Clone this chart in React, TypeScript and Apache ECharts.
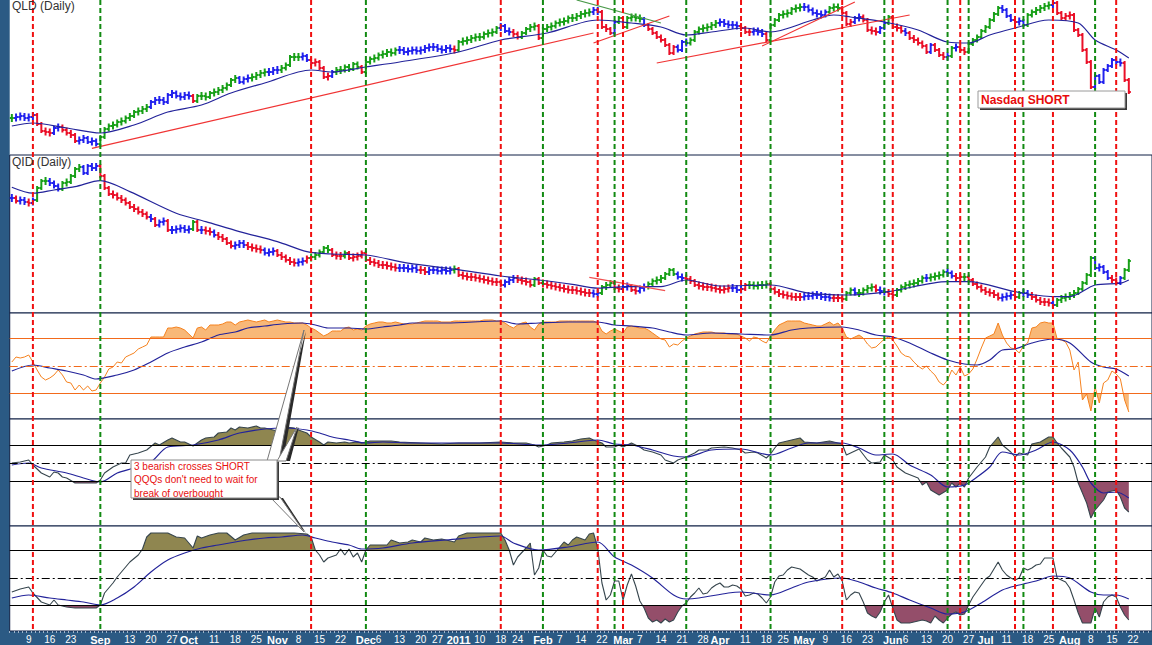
import React, { useEffect, useRef } from "react";
import * as echarts from "echarts";

// ---------- calendar ----------
const FIRST_DAY = "2010-08-03";
const CATEGORY_COUNT = 271;
const HOLIDAYS = ["2010-09-06", "2010-11-25", "2010-12-24", "2011-01-17", "2011-02-21", "2011-04-22", "2011-05-30", "2011-07-04"];

const AXIS_LABELS: [string, string][] = [
  ["2010-08-09", "9"], ["2010-08-16", "16"], ["2010-08-23", "23"], ["2010-09-01", "Sep"], ["2010-09-13", "13"],
  ["2010-09-20", "20"], ["2010-09-27", "27"], ["2010-10-01", "Oct"], ["2010-10-11", "11"], ["2010-10-18", "18"],
  ["2010-10-25", "25"], ["2010-11-01", "Nov"], ["2010-11-08", "8"], ["2010-11-15", "15"], ["2010-11-22", "22"],
  ["2010-12-01", "Dec"], ["2010-12-06", "6"], ["2010-12-13", "13"], ["2010-12-20", "20"], ["2010-12-27", "27"],
  ["2011-01-03", "2011"], ["2011-01-10", "10"], ["2011-01-18", "18"], ["2011-01-24", "24"], ["2011-02-01", "Feb"],
  ["2011-02-07", "7"], ["2011-02-14", "14"], ["2011-02-22", "22"], ["2011-03-01", "Mar"], ["2011-03-07", "7"],
  ["2011-03-14", "14"], ["2011-03-21", "21"], ["2011-03-28", "28"], ["2011-04-01", "Apr"], ["2011-04-11", "11"],
  ["2011-04-18", "18"], ["2011-04-25", "25"], ["2011-05-02", "May"], ["2011-05-09", "9"], ["2011-05-16", "16"],
  ["2011-05-23", "23"], ["2011-06-01", "Jun"], ["2011-06-06", "6"], ["2011-06-13", "13"], ["2011-06-20", "20"],
  ["2011-06-27", "27"], ["2011-07-01", "Jul"], ["2011-07-11", "11"], ["2011-07-18", "18"], ["2011-07-25", "25"],
  ["2011-08-01", "Aug"], ["2011-08-08", "8"], ["2011-08-15", "15"], ["2011-08-22", "22"],
];

const BUY_SIGNALS = ["2010-09-01", "2010-12-01", "2011-02-01", "2011-02-25", "2011-03-22", "2011-04-19", "2011-05-27", "2011-06-20", "2011-06-27", "2011-07-15", "2011-08-09"];
const SELL_SIGNALS = ["2010-08-10", "2010-11-11", "2011-01-18", "2011-02-18", "2011-03-01", "2011-04-08", "2011-05-13", "2011-06-01", "2011-06-23", "2011-07-13", "2011-07-26", "2011-08-16"];

// ---------- QLD (daily closes, from 2010-08-03) ----------
const QLD_CLOSE = [
  70.5, 70.75, 71, 70.5, 70.75, 71.25, 69, 67.25, 67, 66.75,
  68, 68.25, 67.5, 66.75, 66.25, 64.75, 65, 65.5, 64.5, 64.75,
  64, 65.75, 67.75, 68.5, 68.75, 69.5, 69.75, 70.5, 71, 72,
  72.25, 72.75, 73.25, 74.5, 75, 75, 74.5, 76.25, 76.75, 76,
  75.75, 76.25, 76, 74.75, 76, 76, 75.75, 76.75, 77, 77.5,
  78, 78.75, 80, 80.5, 79.5, 80.25, 80.5, 80.75, 81.25, 81.75,
  82, 82, 82.5, 82.5, 83, 83.75, 85.75, 85.75, 85.75, 86,
  85, 84.25, 84.5, 83, 80.75, 81, 82, 82.5, 82.5, 83.25,
  82.75, 84, 83.25, 82, 84.5, 85.25, 85.5, 86.25, 86.5, 87,
  86.75, 87.5, 87.5, 87, 87.25, 87.5, 87.25, 87.5, 88, 88.25,
  88.25, 87.75, 87.5, 88, 87.75, 87.5, 89.5, 89.75, 90, 90.5,
  90.75, 90.75, 91.5, 91.75, 92, 93, 93.5, 92.25, 92, 91.5,
  90.75, 91.75, 92.75, 93.25, 93.5, 90.5, 92.75, 93.25, 93.5, 94.25,
  94.5, 94.75, 95.5, 95.5, 96, 96.5, 96.75, 97, 97.5, 97,
  93.25, 92.75, 91.75, 94.5, 95.5, 93.25, 95.5, 95.75, 95.5, 95.25,
  93.75, 92.75, 91.75, 90.75, 90, 88.75, 86.75, 88.25, 87.5, 89.5,
  89.25, 90, 92, 92.75, 93, 93.25, 93.75, 94.25, 94.5, 94,
  93.75, 93.75, 93.5, 93, 92, 92, 92.25, 92, 91.5, 90,
  93.75, 95, 96.25, 96.5, 96.75, 97.75, 98, 98.25, 98.25, 97.5,
  96.75, 96.5, 96.25, 97, 98, 98.25, 98, 96.75, 94, 94.5,
  95.5, 95.75, 95, 92.5, 92.25, 92, 93, 94.25, 95.75, 93.25,
  93, 92.25, 91.75, 90.5, 90, 89.25, 88.5, 87, 88.75, 87.5,
  86.25, 85.75, 86, 88, 88.25, 87.5, 87, 89, 90, 90.75,
  92.25, 93.25, 95, 96.5, 98, 97.5, 96, 95, 94.5, 94.75,
  93.75, 96.25, 97, 97.5, 98, 98.5, 98.75, 99.25, 96.75, 95.5,
  96, 96.25, 92.5, 91.25, 87.5, 84.5, 78.25, 81, 79.5, 82.5,
  83.5, 85, 84.5, 84.25, 80, 77,
];
// bar colour per day: G = up, B = neutral, R = down
const QLD_COLOR = [
  "GBBBBBRRRR", "BBRRRRBBBB", "BGGGGGGGGG", "GGGBBBBBBB", "BBBRGGGGGG",
  "GGGGBBBGGG", "GBBBGGGGGB", "BRRRRRBGGG", "GGGRGGGGGG", "GGBBBBBBBB",
  "BBBBBRGGGG", "GGGGGGBBBR", "RGGGGRGGGG", "GGGGGGGGBB", "RRRBGRGGGG",
  "BRRRRRRRBB", "BGGGGGGGBB", "BBBRRRBBBR", "GGGGGGGGBB", "BBBBGGGRRR",
  "BBRRRRBBGR", "RRBRRRRRBR", "RRBGBRRGGG", "GGGGGBBBRB", "BGGGGGGBRR",
  "RRRRRRRBBB", "BBBBRR",
].join("");
const QLD_MA: [number, number][] = [
  [0, 68.5], [5, 69.25], [13, 68], [21, 66.75], [29, 68.75], [37, 72], [45, 73.75], [52, 76.75], [60, 79.25],
  [71, 82.5], [76, 82], [84, 83.25], [92, 84.5], [106, 87], [116, 90], [127, 91.75], [139, 95], [147, 94.25],
  [154, 93.25], [160, 91.25], [166, 92], [174, 93], [180, 92], [190, 95], [195, 96.25], [199, 95.75], [207, 94.5],
  [215, 92.5], [222, 89.5], [227, 89.25], [232, 91.25], [238, 93], [246, 95], [253, 94.25], [257, 90], [262, 87.5], [265, 85.5],
];
// [day, value, day, value]
const QLD_RED_TRENDS = [
  [19, 62.9, 138, 91.75],
  [138, 89.25, 156, 96],
  [153, 84.25, 213, 96.25],
  [178, 88.5, 200, 99.5],
];
const QLD_GREEN_TRENDS = [[134, 100, 154, 94.25]];

// ---------- QID ----------
const QID_CLOSE = [
  15.1, 14.95, 15, 14.9, 14.85, 15, 15.6, 15.95, 15.95, 15.85,
  15.7, 15.55, 15.85, 15.9, 16.2, 16.55, 16.65, 16.35, 16.7, 16.6,
  16.7, 16.2, 15.6, 15.3, 15.25, 15.1, 15, 14.85, 14.65, 14.55,
  14.4, 14.3, 14.15, 14.05, 13.75, 13.9, 13.95, 13.5, 13.5, 13.55,
  13.6, 13.5, 13.55, 13.9, 13.5, 13.5, 13.45, 13.4, 13.25, 13.15,
  13.05, 12.85, 12.7, 12.75, 12.85, 12.75, 12.65, 12.6, 12.55, 12.5,
  12.35, 12.4, 12.45, 12.25, 12.15, 12, 11.9, 11.85, 11.9, 11.95,
  12.1, 12.15, 12.25, 12.4, 12.6, 12.5, 12.25, 12.2, 12.2, 12.35,
  12.1, 12.15, 12.2, 12.35, 12, 11.9, 11.85, 11.75, 11.75, 11.7,
  11.65, 11.6, 11.6, 11.6, 11.55, 11.6, 11.5, 11.5, 11.4, 11.5,
  11.5, 11.45, 11.5, 11.45, 11.5, 11.55, 11.25, 11.2, 11.15, 11.15,
  11.1, 11.05, 11, 10.95, 10.9, 10.9, 10.75, 10.9, 11, 11.1,
  11, 10.95, 10.9, 10.75, 11.05, 10.85, 10.8, 10.75, 10.7, 10.65,
  10.6, 10.55, 10.5, 10.5, 10.45, 10.4, 10.35, 10.35, 10.3, 10.35,
  10.65, 10.75, 10.85, 10.6, 10.55, 10.65, 10.7, 10.5, 10.45, 10.6,
  10.65, 10.8, 10.95, 11, 11.1, 11.3, 11.5, 11.3, 11.15, 11.1,
  11.05, 10.95, 10.75, 10.7, 10.65, 10.65, 10.6, 10.55, 10.5, 10.55,
  10.6, 10.6, 10.5, 10.55, 10.75, 10.75, 10.7, 10.75, 10.75, 10.8,
  10.55, 10.4, 10.3, 10.25, 10.2, 10.15, 10.15, 10.15, 10.2, 10.2,
  10.25, 10.25, 10.15, 10.15, 10.1, 10.1, 10.1, 10.05, 10.35, 10.5,
  10.35, 10.35, 10.5, 10.6, 10.65, 10.5, 10.45, 10.4, 10.3, 10.25,
  10.5, 10.65, 10.75, 10.8, 10.85, 10.95, 11.1, 11.1, 11.15, 11.2,
  11.25, 11.4, 11.35, 11.2, 11.1, 11.15, 11.15, 11, 10.8, 10.65,
  10.5, 10.4, 10.35, 10.25, 10.1, 10.15, 10.2, 10.25, 10.15, 10.35,
  10.35, 10.25, 10.15, 10, 9.9, 9.9, 9.85, 9.75, 10, 10.1,
  10.15, 10.25, 10.35, 10.55, 10.85, 11.25, 12.1, 11.6, 11.65, 11.4,
  11.1, 11, 10.85, 11.1, 11.5, 11.95,
];
const QID_COLOR = [
  "BRBBRBGGGB", "BBGGGGGBBB", "BRRRRRRRRR", "RRRBRBBRBB", "BBBGRBRRBR",
  "RRRBBBRRRR", "BBBRRRRRBB", "RGGGGGRRRG", "RRRRRRRRRR", "RRBBBBBRRB",
  "BBBBBGRRRR", "RRRRRRRBBB", "RRRRGRRRRR", "RRRRRRRRBB", "GGGRRBBRRB",
  "BGGGGGGGBB", "RRRRRRRRRR", "RBBBRGGGGG", "RRRRRRRRBB", "BBBBBRRRGG",
  "BGGGGRBBRR", "GGGGGGGBGG", "GGBBRRGRRR", "RRRRRBBBRG", "BBRRRRRBGG",
  "GGGGGGGBBB", "BRRBGG",
].join("");
const QID_MA: [number, number][] = [
  [0, 15.64], [5, 15.34], [10, 15.5], [15, 15.67], [21, 15.97], [28, 15.42], [39, 14.34], [46, 13.92], [54, 13.42],
  [63, 12.92], [70, 12.42], [76, 12.3], [84, 12.25], [94, 11.84], [105, 11.54], [116, 11.2], [125, 11], [133, 10.78],
  [139, 10.59], [146, 10.67], [154, 10.67], [160, 11], [168, 10.7], [180, 10.75], [189, 10.34], [198, 10.25],
  [208, 10.42], [222, 10.92], [227, 10.92], [238, 10.42], [247, 10.17], [251, 10.17], [257, 10.75], [263, 10.84], [265, 11],
];
const QID_RED_TRENDS = [[137, 11.135, 155, 10.465]];

// ---------- oscillator 1 (orange, centred at 0, bands +/-27.5) ----------
const OSC1 = [
  4, 9, 8, 9, 11, 4, -4, -11, -14, -12,
  -9, -4, -9, -16, -17, -24, -19, -24, -20, -25,
  -24, -17, -11, -3, -1, 4, 3, 9, 11, 13,
  17, 19, 21, 29, 29, 29, 29, 38, 38, 39,
  38, 36, 32, 28, 38, 39, 36, 41, 41, 41,
  42, 44, 44, 41, 44, 45, 46, 45, 44, 45,
  46, 44, 45, 46, 45, 44, 44, 43, 43, 43,
  41, 38, 36, 33, 30, 32, 35, 35, 35, 38,
  39, 36, 37, 36, 40, 42, 43, 44, 44, 43,
  43, 44, 43, 42, 42, 42, 43, 44, 45, 45,
  45, 45, 44, 44, 44, 45, 45, 45, 45, 45,
  45, 45, 46, 46, 46, 45, 45, 43, 40, 38,
  41, 43, 44, 39, 36, 42, 44, 44, 44, 44,
  45, 45, 45, 45, 45, 45, 45, 45, 45, 43,
  35, 32, 35, 37, 35, 33, 39, 40, 39, 38,
  38, 36, 33, 30, 27, 26, 19, 22, 21, 25,
  28, 30, 32, 33, 34, 34, 34, 33, 33, 33,
  32, 32, 32, 30, 28, 25, 29, 28, 25, 23,
  30, 36, 41, 43, 45, 45, 45, 45, 43, 42,
  41, 40, 40, 42, 44, 41, 43, 38, 29, 27,
  29, 31, 28, 22, 18, 19, 23, 27, 29, 26,
  20, 13, 10, 9, 4, 0, -3, 0, -5, -9,
  -16, -19, -14, -4, -9, -1, -10, -8, -3, 7,
  18, 28, 30, 32, 43, 31, 23, 18, 17, 13,
  20, 23, 38, 39, 43, 44, 43, 43, 27, 26,
  24, 16, -4, 4, -34, -28, -45, -21, -37, -17,
  -14, -5, -8, -13, -34, -46,
];
const OSC1_MA: [number, number][] = [
  [0, -5], [5, 1], [9, -2], [13, -5], [17, -9], [20, -13], [25, -9], [29, -4], [33, 4], [37, 13], [41, 19], [45, 24],
  [49, 31], [53, 34], [56, 38], [60, 40], [64, 42], [69, 43], [72, 41], [75, 38], [80, 38], [84, 37], [88, 39], [92, 41],
  [95, 43], [103, 43], [116, 45], [120, 42], [125, 43], [132, 44], [139, 44], [143, 41], [147, 40], [152, 38], [156, 34],
  [160, 31], [166, 33], [173, 32], [180, 31], [185, 36], [189, 38], [197, 39], [201, 36], [205, 31], [209, 29], [213, 23],
  [218, 13], [222, 6], [226, 2], [229, 1], [232, 6], [235, 16], [238, 17], [242, 23], [247, 27], [251, 23], [256, 4],
  [259, -1], [262, -3], [265, -10],
];

// ---------- oscillator 2 (bands +/-18) ----------
const OSC2: [number, number][] = [
  [0, 0], [2, 1], [4, 3], [5, -2], [7, -10], [9, -14], [10, -9], [11, -10], [12, -14], [13, -15], [15, -20], [16, -20],
  [18, -20], [20, -20], [21, -17], [22, -10], [24, -4], [26, 0], [27, 0], [28, 8], [30, 10], [32, 13], [34, 20], [35, 18],
  [37, 23], [38, 25], [40, 21], [41, 21], [43, 17], [45, 23], [46, 25], [48, 26], [49, 30], [51, 31], [52, 35], [53, 33],
  [54, 36], [56, 35], [58, 37], [59, 35], [60, 35], [63, 32], [65, 36], [67, 35], [68, 33], [70, 30], [71, 26], [73, 21],
  [74, 18], [75, 21], [77, 20], [79, 21], [80, 20], [82, 21], [83, 20], [85, 22], [87, 22], [90, 22], [92, 21], [97, 20],
  [102, 19], [106, 20], [111, 20], [116, 21], [119, 20], [122, 20], [124, 18], [125, 16], [127, 18], [128, 20], [131, 21],
  [133, 22], [135, 24], [137, 25], [138, 23], [140, 20], [141, 16], [143, 16], [144, 18], [145, 16], [147, 20], [149, 16],
  [150, 13], [152, 11], [154, 8], [155, 3], [157, 0], [158, 3], [160, 6], [162, 10], [163, 13], [165, 13], [166, 15],
  [169, 16], [171, 15], [173, 13], [174, 10], [176, 11], [177, 10], [179, 5], [180, 9], [181, 15], [182, 20], [185, 23],
  [187, 25], [188, 21], [191, 20], [194, 22], [196, 20], [197, 19], [198, 8], [199, 10], [201, 14], [203, 3], [204, 0],
  [206, 1], [207, 8], [209, 3], [210, -4], [212, -10], [215, -15], [216, -22], [217, -19], [218, -27], [220, -32],
  [222, -27], [223, -20], [224, -24], [225, -20], [226, -24], [227, -15], [229, -4], [231, 6], [232, 16], [234, 26],
  [235, 18], [237, 11], [238, 6], [239, 10], [241, 8], [242, 19], [244, 21], [246, 26], [247, 26], [248, 20], [249, 15],
  [251, 6], [252, -4], [253, -20], [255, -40], [256, -55], [257, -47], [259, -37], [260, -29], [262, -27], [263, -34],
  [264, -45], [265, -49],
];
const OSC2_MA: [number, number][] = [
  [0, -2], [4, 0], [7, -5], [13, -10], [17, -15], [21, -19], [25, -10], [29, -5], [33, 1], [37, 16], [43, 18], [49, 23],
  [54, 30], [60, 34], [65, 35], [70, 33], [73, 30], [76, 26], [80, 23], [84, 20], [88, 21], [95, 20], [107, 20], [116, 20],
  [125, 18], [132, 20], [139, 23], [143, 19], [147, 18], [152, 13], [157, 7], [160, 6], [166, 13], [173, 14], [180, 8],
  [185, 15], [189, 20], [197, 20], [201, 15], [205, 8], [209, 9], [213, -2], [218, -12], [222, -24], [226, -22],
  [229, -14], [232, -4], [235, 11], [239, 8], [243, 13], [247, 21], [251, 13], [254, -4], [256, -20], [259, -30],
  [262, -29], [265, -35],
];

// ---------- oscillator 3 (bands +/-27.5) ----------
const OSC3: [number, number][] = [
  [0, -14], [2, -11], [4, -9], [5, -15], [7, -24], [9, -27], [10, -22], [11, -27], [13, -29], [15, -30], [18, -30],
  [20, -30], [21, -27], [22, -15], [24, -5], [25, 1], [26, 6], [27, 11], [28, 16], [30, 23], [31, 29], [32, 41], [33, 45],
  [34, 45], [35, 45], [37, 45], [39, 41], [41, 40], [43, 30], [44, 42], [45, 40], [47, 43], [49, 45], [51, 45], [53, 38],
  [55, 43], [57, 45], [60, 45], [64, 45], [67, 45], [70, 44], [71, 41], [72, 28], [73, 23], [74, 16], [75, 20], [77, 23],
  [78, 29], [79, 23], [80, 29], [81, 21], [82, 25], [83, 16], [84, 28], [85, 33], [87, 33], [89, 33], [90, 38], [92, 35],
  [94, 36], [95, 38], [97, 36], [98, 40], [100, 38], [102, 39], [105, 36], [106, 42], [108, 45], [111, 45], [114, 45],
  [116, 45], [117, 38], [118, 28], [119, 13], [120, 21], [122, 30], [123, 35], [124, 3], [125, 10], [126, 28], [127, 22],
  [128, 21], [129, 26], [131, 36], [132, 33], [133, 38], [134, 41], [136, 38], [137, 44], [138, 45], [139, 30], [140, -5],
  [141, -22], [142, -17], [143, -3], [144, -3], [145, -22], [146, -7], [147, 4], [148, -8], [149, -23], [150, -30],
  [151, -40], [152, -44], [153, -42], [154, -45], [155, -41], [156, -44], [157, -42], [158, -34], [159, -28], [160, -25],
  [161, -19], [162, -15], [163, -10], [164, -16], [165, -15], [166, -10], [167, -7], [168, -5], [169, -9], [170, -9],
  [171, -7], [172, -8], [173, -11], [174, -18], [175, -17], [176, -15], [177, -16], [178, -20], [179, -25], [180, -19],
  [181, -4], [182, 2], [183, 3], [184, 8], [185, 11], [186, 10], [187, 9], [188, 6], [189, 3], [190, 1], [191, -3],
  [192, -1], [193, 1], [194, 8], [195, 1], [196, 4], [197, -3], [198, -22], [199, -17], [200, -14], [201, -15], [202, -24],
  [203, -35], [204, -38], [205, -40], [206, -34], [207, -24], [208, -17], [209, -30], [210, -42], [211, -45], [212, -45],
  [213, -45], [214, -44], [215, -43], [216, -42], [217, -43], [218, -45], [219, -38], [220, -42], [221, -45], [222, -40],
  [223, -36], [224, -34], [225, -37], [226, -36], [227, -27], [228, -19], [229, -13], [230, -7], [231, -1], [232, 2],
  [233, 9], [234, 16], [235, 8], [236, 3], [237, 0], [238, -2], [239, 0], [240, 10], [241, 8], [242, 10], [243, 13],
  [244, 14], [245, 20], [246, 20], [247, 20], [248, 0], [249, -2], [250, -4], [251, -10], [252, -22], [253, -35],
  [254, -45], [255, -45], [256, -45], [257, -30], [258, -39], [259, -24], [260, -19], [261, -17], [262, -19], [263, -29],
  [264, -37], [265, -42],
];
const OSC3_MA: [number, number][] = [
  [0, -20], [4, -17], [9, -20], [13, -22], [17, -24], [21, -27], [25, -20], [29, -9], [33, 6], [37, 18], [41, 25],
  [45, 30], [49, 33], [53, 36], [56, 38], [60, 40], [64, 41], [69, 43], [72, 40], [76, 36], [80, 33], [83, 29], [88, 30],
  [95, 35], [103, 38], [116, 42], [119, 35], [125, 28], [132, 31], [139, 36], [143, 21], [147, 13], [152, 0], [157, -17],
  [160, -21], [163, -20], [170, -15], [173, -14], [180, -17], [185, -10], [189, -4], [197, 0], [201, -4], [205, -10],
  [209, -15], [213, -22], [218, -30], [222, -36], [226, -34], [230, -25], [235, -12], [239, -7], [243, -3], [247, 2],
  [251, 0], [256, -14], [259, -17], [262, -17], [265, -21],
];

// ---------- styling ----------
const FONT = "'Liberation Sans', Arial, sans-serif";
const STRIP = "#2b5a84";
const NAVY = "#0f1f45";
const MA_BLUE = "#23239a";
const BAR_COLORS = ["#18a018", "#2222ee", "#ea1028"];
const SIG_RED = "#f01010";
const SIG_GREEN = "#128a12";
const ORANGE = "#f26a1b";
const ORANGE_LINE = "#f5821f";
const ORANGE_FILL = "#f8b878";
const OLIVE = "#8f8650";
const MAROON = "#944e6a";
const OSC_LINE = "#36454d";
const DASHDOT = [8, 3, 2, 3];

const GL = 9.72;
const GW = 1143.08;
const PANELS = [
  { top: 0, height: 631 }, // overlay (signals + date axis)
  { top: 0, height: 155 }, // QLD
  { top: 155, height: 158 }, // QID
  { top: 313, height: 106 }, // osc 1
  { top: 419, height: 107 }, // osc 2
  { top: 526, height: 105 }, // osc 3
];
const Y_RANGES = [
  [0, 1],
  [61.25, 100],
  [9.35, 17.25],
  [-53, 53],
  [-63, 44],
  [-53, 52],
];

function buildTradingDays(): string[] {
  const out: string[] = [];
  const [y, m, d] = FIRST_DAY.split("-").map(Number);
  const cur = new Date(Date.UTC(y, m - 1, d));
  while (out.length < CATEGORY_COUNT) {
    const wd = cur.getUTCDay();
    const iso = cur.toISOString().slice(0, 10);
    if (wd !== 0 && wd !== 6 && HOLIDAYS.indexOf(iso) < 0) out.push(iso);
    cur.setUTCDate(cur.getUTCDate() + 1);
  }
  return out;
}

const COLOR_INDEX: Record<string, number> = { G: 0, B: 1, R: 2 };

function barData(closes: number[], colors: string) {
  return closes.map((c, k) => [k, k === 0 ? c : closes[k - 1], c, COLOR_INDEX[colors[k]] ?? 1]);
}

function renderBar(params: any, api: any) {
  const k = api.value(0);
  const o = api.value(1);
  const c = api.value(2);
  const stroke = BAR_COLORS[api.value(3)];
  const po = api.coord([k, o]);
  const pc = api.coord([k, c]);
  const band = api.size([1, 0])[0];
  const half = band * 0.48;
  let top = Math.min(po[1], pc[1]) - 2;
  let bot = Math.max(po[1], pc[1]) + 2;
  if (bot - top < 8) {
    const mid = (top + bot) / 2;
    top = mid - 4;
    bot = mid + 4;
  }
  const x = po[0];
  const st = { stroke, lineWidth: 2 };
  return {
    type: "group",
    children: [
      { type: "line", shape: { x1: x, y1: top, x2: x, y2: bot }, style: st },
      { type: "line", shape: { x1: x - half, y1: po[1], x2: x, y2: po[1] }, style: st },
      { type: "line", shape: { x1: x, y1: pc[1], x2: x + half, y2: pc[1] }, style: st },
    ],
  };
}

function levelLines(levels: [number, string, any][]) {
  return {
    silent: true,
    symbol: ["none", "none"],
    label: { show: false },
    animation: false,
    data: levels.map(([v, color, type]) => ({ yAxis: v, lineStyle: { color, type, width: 1 } })),
  };
}

function buildOption() {
  const days = buildTradingDays();
  const labelMap = new Map<string, string>(AXIS_LABELS);

  const series: any[] = [];
  const visualMap: any[] = [];

  const signalData = [
    ...BUY_SIGNALS.map((d) => [days.indexOf(d), 1]),
    ...SELL_SIGNALS.map((d) => [days.indexOf(d), 0]),
  ];
  series.push({
    type: "custom",
    xAxisIndex: 0,
    yAxisIndex: 0,
    z: 10,
    silent: true,
    data: signalData,
    encode: { x: 0, y: 1 },
    renderItem: (params: any, api: any) => {
      const x = api.coord([api.value(0), 0])[0];
      const cs = params.coordSys;
      const buy = api.value(1) === 1;
      return {
        type: "line",
        shape: { x1: x, y1: cs.y, x2: x, y2: cs.y + cs.height },
        style: { stroke: buy ? SIG_GREEN : SIG_RED, lineWidth: 2, lineDash: [5, 3] },
      };
    },
  });

  const line = (gi: number, data: any[], color: string, width: number, extra: any = {}) => ({
    type: "line",
    xAxisIndex: gi,
    yAxisIndex: gi,
    data,
    showSymbol: false,
    symbol: "none",
    silent: true,
    lineStyle: { color, width },
    z: 3,
    ...extra,
  });

  // QLD
  series.push({ type: "custom", xAxisIndex: 1, yAxisIndex: 1, z: 2, silent: true, data: barData(QLD_CLOSE, QLD_COLOR), encode: { x: 0, y: [1, 2] }, renderItem: renderBar });
  series.push(line(1, QLD_MA, MA_BLUE, 1.2, { smooth: 0.3 }));
  QLD_RED_TRENDS.forEach((t) => series.push(line(1, [[t[0], t[1]], [t[2], t[3]]], "#f03434", 1.2)));
  QLD_GREEN_TRENDS.forEach((t) => series.push(line(1, [[t[0], t[1]], [t[2], t[3]]], "#4a9a4a", 1.2)));

  // QID
  series.push({ type: "custom", xAxisIndex: 2, yAxisIndex: 2, z: 2, silent: true, data: barData(QID_CLOSE, QID_COLOR), encode: { x: 0, y: [1, 2] }, renderItem: renderBar });
  series.push(line(2, QID_MA, MA_BLUE, 1.2, { smooth: 0.3 }));
  QID_RED_TRENDS.forEach((t) => series.push(line(2, [[t[0], t[1]], [t[2], t[3]]], "#f05050", 1.2)));

  const fill = (gi: number, data: any[], band: number, upColor: string, downColor: string) => {
    const idx = series.length;
    series.push({
      type: "line",
      xAxisIndex: gi,
      yAxisIndex: gi,
      data,
      showSymbol: false,
      symbol: "none",
      silent: true,
      z: 1,
      lineStyle: { width: 0 },
      areaStyle: { opacity: 1 },
    });
    visualMap.push({
      show: false,
      type: "piecewise",
      seriesIndex: idx,
      dimension: 1,
      pieces: [
        { gt: band, lte: 500, color: upColor },
        { gte: -500, lt: -band, color: downColor },
        { gte: -band, lte: band, color: "rgba(255,255,255,0)" },
      ],
    });
  };

  // oscillator 1
  const osc1Data = OSC1.map((v, k) => [k, v]);
  fill(3, osc1Data, 27.5, ORANGE_FILL, ORANGE_FILL);
  series.push(line(3, osc1Data, ORANGE_LINE, 1, {
    markLine: levelLines([[27.5, ORANGE, "solid"], [0, ORANGE, DASHDOT], [-27.5, ORANGE, "solid"]]),
  }));
  series.push(line(3, OSC1_MA, MA_BLUE, 1.2, { smooth: 0.3 }));

  // oscillator 2
  fill(4, OSC2, 18, OLIVE, MAROON);
  series.push(line(4, OSC2, OSC_LINE, 1.1, {
    markLine: levelLines([[18, "#000", "solid"], [0, "#000", DASHDOT], [-18, "#000", "solid"]]),
  }));
  series.push(line(4, OSC2_MA, MA_BLUE, 1.2, { smooth: 0.3 }));

  // oscillator 3
  fill(5, OSC3, 27.5, OLIVE, MAROON);
  series.push(line(5, OSC3, OSC_LINE, 1.1, {
    markLine: levelLines([[27.5, "#000", "solid"], [0, "#000", DASHDOT], [-27.5, "#000", "solid"]]),
  }));
  series.push(line(5, OSC3_MA, MA_BLUE, 1.2, { smooth: 0.3 }));

  const grid = PANELS.map((p, i) => ({
    left: GL,
    width: GW,
    top: p.top,
    height: p.height,
    show: i > 0,
    backgroundColor: "#ffffff",
    borderColor: NAVY,
    borderWidth: i > 1 ? 1 : 0,
    containLabel: false,
  }));

  const xAxis = PANELS.map((_, i) => ({
    type: "category",
    gridIndex: i,
    data: days,
    boundaryGap: true,
    show: i === 0,
    position: "bottom",
    axisLine: { show: false },
    axisTick: { show: i === 0, interval: 0, length: 2, lineStyle: { color: "#9db2c8", width: 1 } },
    splitLine: { show: false },
    axisLabel: {
      show: i === 0,
      interval: (_idx: number, val: string) => labelMap.has(val),
      formatter: (val: string) => {
        const t = labelMap.get(val) || "";
        return /^\d{1,2}$/.test(t) ? t : `{b|${t}}`;
      },
      color: "#ffffff",
      fontSize: 10,
      fontFamily: FONT,
      margin: 3,
      rich: { b: { fontWeight: "bold", fontSize: 11, color: "#ffffff", fontFamily: FONT } },
    },
  }));

  const yAxis = PANELS.map((_, i) => ({
    type: "value",
    gridIndex: i,
    min: Y_RANGES[i][0],
    max: Y_RANGES[i][1],
    show: false,
    splitLine: { show: false },
  }));

  const boxShadow = "#3a3a3a";
  const graphic: any[] = [
    { type: "text", x: 12, y: 6, z: 100, silent: true, style: { text: "QLD (Daily)", fill: "#333", font: `12px ${FONT}`, verticalAlign: "middle" } },
    { type: "text", x: 12, y: 162, z: 100, silent: true, style: { text: "QID (Daily)", fill: "#333", font: `12px ${FONT}`, verticalAlign: "middle" } },
    // Nasdaq SHORT box
    { type: "rect", z: 100, silent: true, shape: { x: 980, y: 93, width: 147, height: 17 }, style: { fill: boxShadow } },
    { type: "rect", z: 101, silent: true, shape: { x: 978, y: 91, width: 147, height: 17 }, style: { fill: "#fff", stroke: "#9a9a9a", lineWidth: 1 } },
    { type: "text", z: 102, silent: true, x: 981, y: 100, style: { text: "Nasdaq SHORT", fill: "#e80c0c", font: `bold 12px ${FONT}`, verticalAlign: "middle" } },
    // callout pointers
    { type: "polygon", z: 100, silent: true, shape: { points: [[270, 461], [306, 331], [283, 461]] }, style: { fill: "#2a2a2a" } },
    { type: "polygon", z: 101, silent: true, shape: { points: [[267, 461], [304, 330], [279, 461]] }, style: { fill: "#fff", stroke: "#777", lineWidth: 1 } },
    { type: "polygon", z: 100, silent: true, shape: { points: [[279, 461], [299, 427], [290, 461]] }, style: { fill: "#2a2a2a" } },
    { type: "polygon", z: 101, silent: true, shape: { points: [[277, 461], [297, 427], [286, 461]] }, style: { fill: "#fff", stroke: "#777", lineWidth: 1 } },
    { type: "polygon", z: 100, silent: true, shape: { points: [[272, 498], [306, 533], [283, 498]] }, style: { fill: "#2a2a2a" } },
    { type: "polygon", z: 101, silent: true, shape: { points: [[270, 497], [304, 532], [280, 497]] }, style: { fill: "#fff", stroke: "#777", lineWidth: 1 } },
    // annotation box
    { type: "rect", z: 102, silent: true, shape: { x: 133, y: 462, width: 146, height: 38 }, style: { fill: boxShadow } },
    { type: "rect", z: 103, silent: true, shape: { x: 131, y: 460, width: 146, height: 38 }, style: { fill: "#fff", stroke: "#8a8a8a", lineWidth: 1 } },
    { type: "text", z: 104, silent: true, x: 134, y: 466, style: { text: "3 bearish crosses SHORT", fill: "#e81010", font: `10px ${FONT}`, verticalAlign: "middle" } },
    { type: "text", z: 104, silent: true, x: 134, y: 479.5, style: { text: "QQQs don't need to wait for", fill: "#e81010", font: `10px ${FONT}`, verticalAlign: "middle" } },
    { type: "text", z: 104, silent: true, x: 134, y: 493, style: { text: "break of overbought", fill: "#e81010", font: `10px ${FONT}`, verticalAlign: "middle" } },
  ];

  return {
    animation: false,
    backgroundColor: "transparent",
    textStyle: { fontFamily: FONT },
    grid,
    xAxis,
    yAxis,
    visualMap,
    series,
    graphic,
  };
}

export default function App() {
  const ref = useRef<HTMLDivElement>(null);
  useEffect(() => {
    if (!ref.current) return;
    const chart = echarts.init(ref.current, undefined, { renderer: "svg" });
    chart.setOption(buildOption() as any);
    return () => chart.dispose();
  }, []);
  return (
    <div style={{ position: "fixed", left: 0, top: 0, width: 1152, height: 645, background: STRIP, overflow: "hidden" }}>
      <div ref={ref} style={{ width: 1152, height: 645 }} />
    </div>
  );
}
